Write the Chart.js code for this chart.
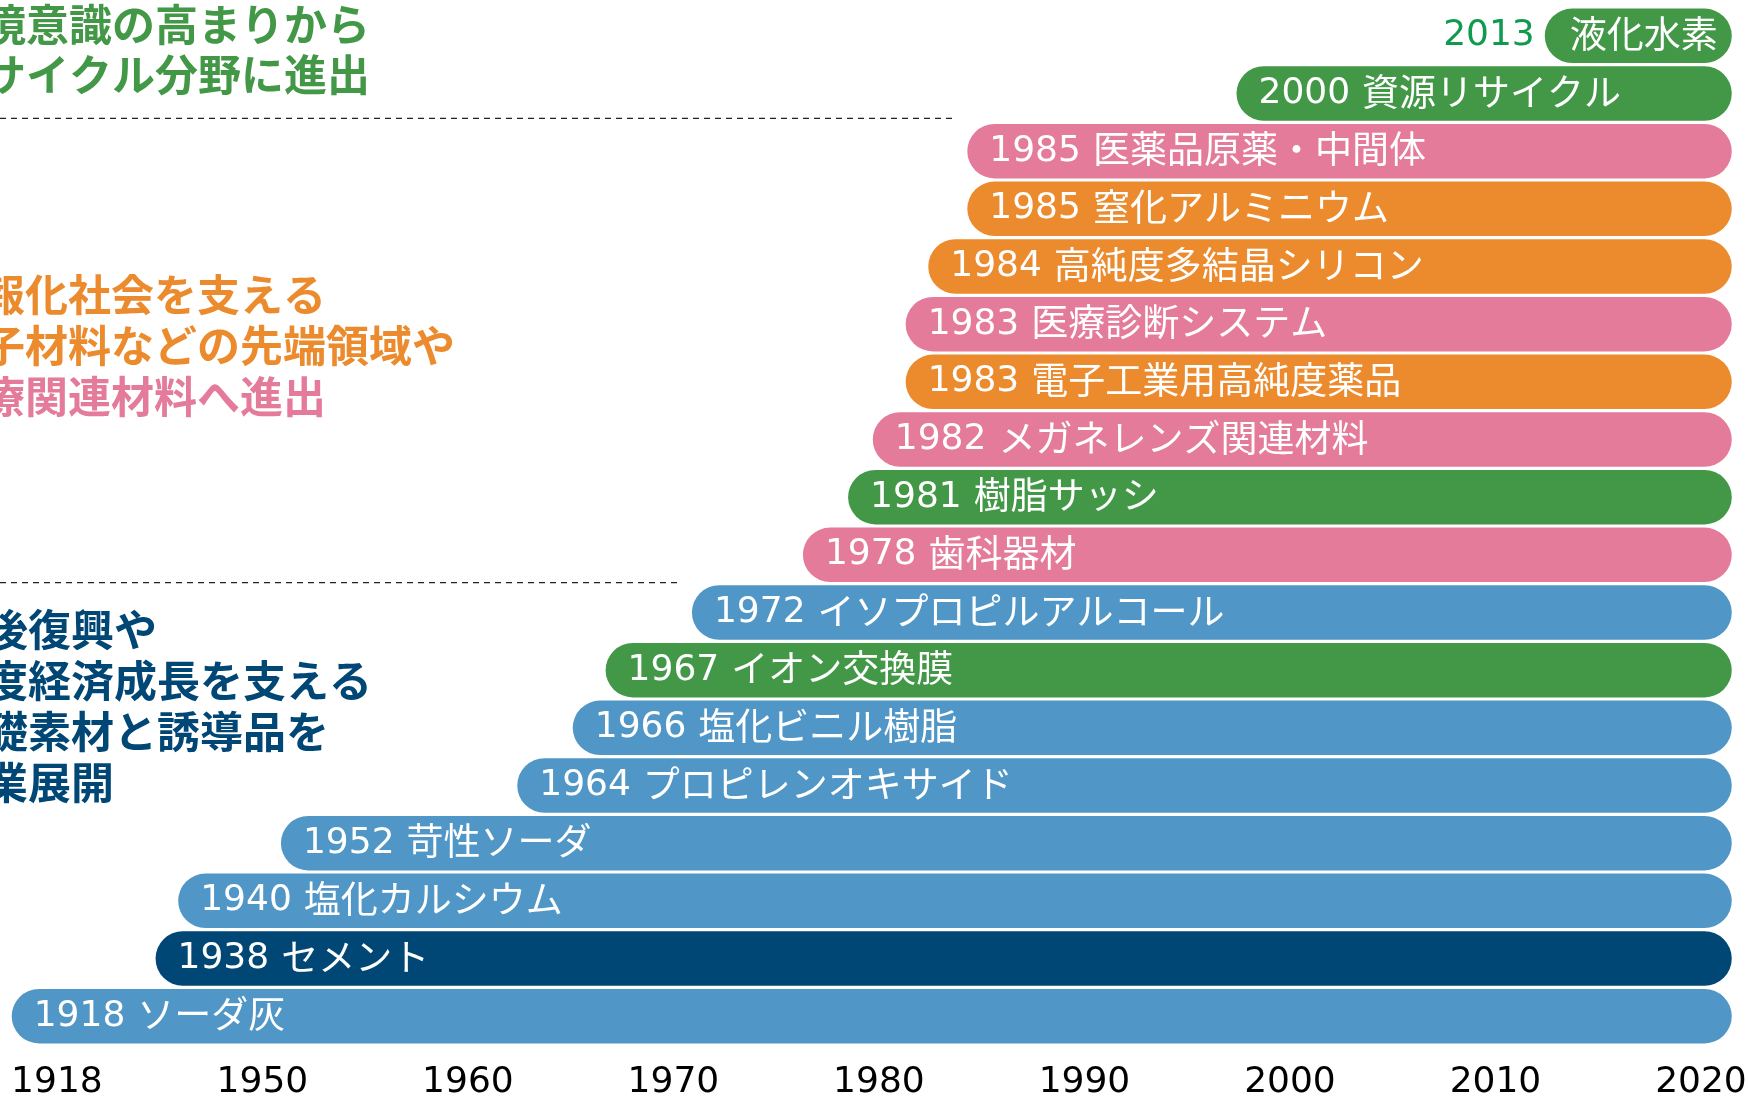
<!DOCTYPE html>
<html lang="ja">
<head>
<meta charset="utf-8">
<title>事業展開の歩み</title>
<script src="https://cdn.jsdelivr.net/npm/chart.js@4.4.1/dist/chart.umd.min.js"></script>
<style>
  html, body { margin: 0; padding: 0; background: #fff; }
  #wrap { width: 1748px; height: 1096px; position: relative; }
</style>
</head>
<body>
<div id="wrap"><canvas id="history"></canvas></div>
<script>
// rows, top to bottom
const years = ['2013', '2000', '1985', '1985', '1984', '1983', '1983', '1982', '1981',
  '1978', '1972', '1967', '1966', '1964', '1952', '1940', '1938', '1918'];
const products = ['液化水素', '資源リサイクル', '医薬品原薬・中間体', '窒化アルミニウム',
  '高純度多結晶シリコン', '医療診断システム', '電子工業用高純度薬品', 'メガネレンズ関連材料',
  '樹脂サッシ', '歯科器材', 'イソプロピルアルコール', 'イオン交換膜', '塩化ビニル樹脂',
  'プロピレンオキサイド', '苛性ソーダ', '塩化カルシウム', 'セメント', 'ソーダ灰'];
const fields = ['green', 'green', 'pink', 'orange', 'orange', 'pink', 'orange', 'pink', 'green',
  'pink', 'blue', 'green', 'blue', 'blue', 'blue', 'blue', 'navy', 'blue'];

// where each bar begins, read on the picture's own time axis
const barStarts = [2012.4, 1997.4, 1984.3, 1984.3, 1982.4, 1981.3, 1981.3, 1979.7, 1978.5,
  1976.3, 1970.9, 1966.7, 1965.1, 1962.4, 1950.9, 1945.9, 1944.8, 1937.8];
const barEnd = 2021.5;

// the first tick stands for 1918 although it sits a decade before 1950
const tickValues = [1940, 1950, 1960, 1970, 1980, 1990, 2000, 2010, 2020];
const tickLabels = ['1918', '1950', '1960', '1970', '1980', '1990', '2000', '2010', '2020'];

// side notes
const noteRecycle = ['環境意識の高まりから', 'リサイクル分野に進出'];
const noteHighTech = ['情報化社会を支える', '電子材料などの先端領域や', '医療関連材料へ進出'];
const noteBasic = ['戦後復興や', '高度経済成長を支える', '基礎素材と誘導品を', '事業展開'];

const palette = {
  blue: '#5097C7',
  navy: '#004775',
  green: '#439847',
  orange: '#EC8B2E',
  pink: '#E47B9B'
};

const yearFont = '36px "DejaVu Sans"';
const nameFont = '37px "Noto Sans CJK JP"';
const noteFont = 'bold 43px "Noto Sans CJK JP"';

const barLabels = {
  id: 'barLabels',
  afterDatasetsDraw(chart) {
    const ctx = chart.ctx;
    const meta = chart.getDatasetMeta(0);
    meta.data.forEach((bar, i) => {
      const left = Math.min(bar.base, bar.x);
      const right = Math.max(bar.base, bar.x);
      ctx.save();
      ctx.textBaseline = 'middle';
      ctx.textAlign = 'left';
      ctx.font = yearFont;
      const yw = ctx.measureText(years[i]).width;
      ctx.font = nameFont;
      const nw = ctx.measureText(products[i]).width;
      if (left + 22 + yw + 12 + nw > right - 10) {
        // too short: the year goes in front of the bar
        ctx.font = yearFont;
        ctx.fillStyle = '#109A50';
        ctx.textAlign = 'right';
        ctx.fillText(years[i], left - 10, bar.y);
        ctx.textAlign = 'left';
        ctx.font = nameFont;
        ctx.fillStyle = '#fff';
        ctx.fillText(products[i], left + 25, bar.y - 2);
      } else {
        ctx.fillStyle = '#fff';
        ctx.font = yearFont;
        ctx.fillText(years[i], left + 22, bar.y);
        ctx.font = nameFont;
        ctx.fillText(products[i], left + 22 + yw + 12, bar.y - 2);
      }
      ctx.restore();
    });
  }
};

const sideNotes = {
  id: 'sideNotes',
  beforeDatasetsDraw(chart) {
    const ctx = chart.ctx;
    const bars = chart.getDatasetMeta(0).data;
    ctx.save();
    // dashed separators between the three eras
    ctx.strokeStyle = '#222';
    ctx.lineWidth = 1.4;
    ctx.setLineDash([6, 5]);
    [[2, -4], [10, -1]].forEach(([k, dy]) => {
      const y = (bars[k - 1].y + bars[k].y) / 2 + dy;
      const end = Math.min(bars[k].base, bars[k].x) - 11;
      ctx.beginPath();
      ctx.moveTo(0, y);
      ctx.lineTo(end, y);
      ctx.stroke();
    });
    ctx.setLineDash([]);

    ctx.font = noteFont;
    ctx.textBaseline = 'middle';
    ctx.textAlign = 'left';
    const draw = (lines, colors, x, y0, step) => {
      lines.forEach((t, j) => {
        ctx.fillStyle = colors[j];
        ctx.fillText(t, x, y0 + j * step - 2);
      });
    };
    draw(noteRecycle, [palette.green, palette.green], -60, 27, 50);
    draw(noteHighTech, [palette.orange, palette.orange, palette.pink], -61, 297, 51);
    draw(noteBasic, [palette.navy, palette.navy, palette.navy, palette.navy], -58, 632, 51);
    ctx.restore();
  }
};

new Chart(document.getElementById('history'), {
  type: 'bar',
  data: {
    labels: products,
    datasets: [{
      data: barStarts.map(s => [s, barEnd]),
      backgroundColor: fields.map(f => palette[f]),
      borderRadius: 30,
      borderSkipped: false,
      barPercentage: 0.946,
      categoryPercentage: 1
    }]
  },
  options: {
    indexAxis: 'y',
    responsive: true,
    maintainAspectRatio: false,
    animation: false,
    layout: { padding: { top: 7, left: 0, right: 0, bottom: 0 } },
    plugins: {
      legend: { display: false },
      tooltip: { enabled: false }
    },
    scales: {
      y: { display: false },
      x: {
        type: 'linear',
        min: 1937.23,
        max: 2022.29,
        grid: { display: false, drawTicks: false, tickLength: 0 },
        border: { display: false },
        afterBuildTicks: scale => {
          scale.ticks = tickValues.map(v => ({ value: v }));
        },
        afterFit: scale => {
          scale.height = 51;
          // labels already fit inside the canvas, keep the full width for the plot
          scale.paddingLeft = 0;
          scale.paddingRight = 0;
        },
        ticks: {
          autoSkip: false,
          maxRotation: 0,
          padding: 16,
          color: '#000',
          font: { family: 'DejaVu Sans', size: 36 },
          callback: v => tickLabels[tickValues.indexOf(v)]
        }
      }
    }
  },
  plugins: [sideNotes, barLabels]
});
</script>
</body>
</html>
